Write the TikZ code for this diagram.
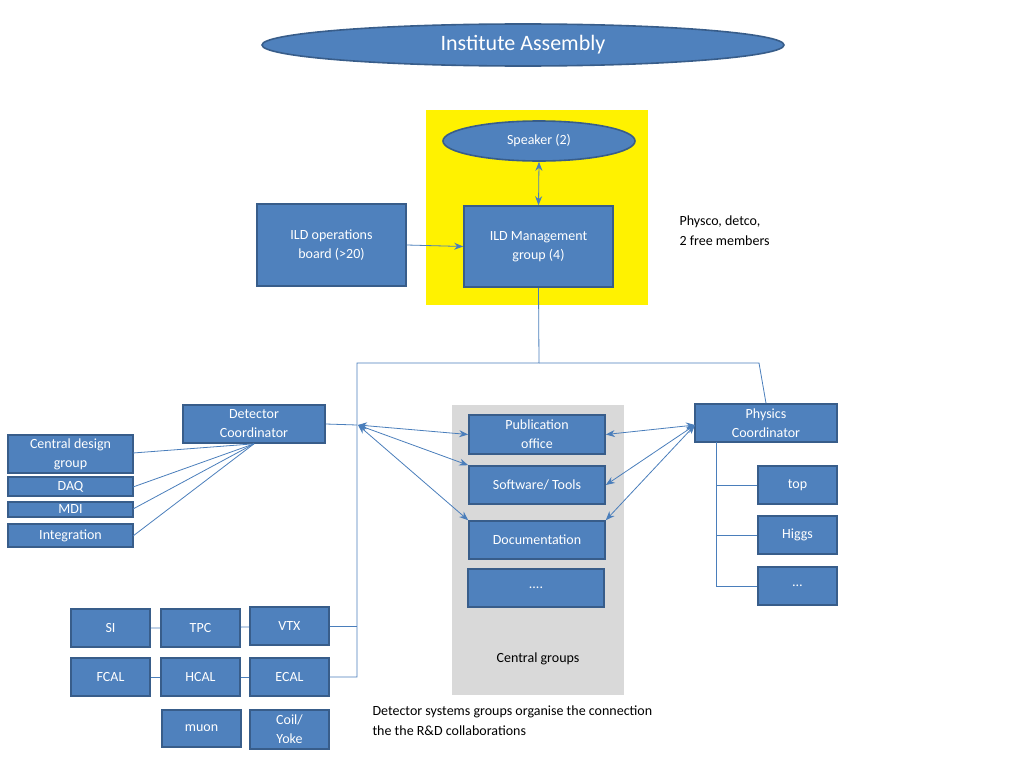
\documentclass[tikz,border=0pt]{standalone}
\usepackage{fontspec}
\setmainfont{Carlito}
\usetikzlibrary{arrows.meta,shapes.geometric}
\definecolor{boxfill}{HTML}{4F81BD}
\definecolor{boxline}{HTML}{385D8A}
\definecolor{linkc}{HTML}{4A7EBB}
\tikzset{
  box/.style={draw=boxline,line width=1.6pt,fill=boxfill,text=white,inner sep=0pt,align=center,font=\fontsize{14}{19}\selectfont},
  oval/.style={box,ellipse},
  link/.style={draw=linkc,line width=0.8pt},
  tip/.style={link,-{Stealth[length=9pt,width=7pt]}},
  both/.style={link,{Stealth[length=9pt,width=7pt]}-{Stealth[length=9pt,width=7pt]}},
}
\newcommand{\boxat}[6]{\node[box,minimum width=#4-#2,minimum height=#5-#3] (#1) at ({(#2+#4)/2},{(#3+#5)/2}) {#6};}
\begin{document}
\begin{tikzpicture}[x=1pt,y=1pt,yscale=-1]
    \useasboundingbox (0,0) rectangle (1024,768);

    % backgrounds
    \fill[yellow] (426,110) rectangle (648,305);
    \fill[black!15] (452,405) rectangle (624,695);

    % top
    \node[oval,minimum width=522,minimum height=42,font=\fontsize{22}{26}\selectfont] (assembly) at (523,45) {Institute Assembly};
    \node[oval,minimum width=192,minimum height=40] (speaker) at (539,141) {Speaker (2)};
    \boxat{mgmt}{464}{206}{613}{287}{ILD Management\\group (4)}
    \boxat{ops}{257}{204}{406}{286}{ILD operations\\board (>20)}
    \node[anchor=north west,align=left,font=\fontsize{14}{20}\selectfont] (note) at (676,212) {Physco, detco,\\2 free members};

    % detector side
    \boxat{detco}{183}{405}{325}{443}{Detector\\Coordinator}
    \boxat{cdg}{8}{435}{133}{473}{Central design\\group}
    \boxat{daq}{8}{477}{133}{496}{DAQ}
    \boxat{mdi}{8}{502}{133}{517}{MDI}
    \boxat{integ}{8}{524}{133}{547}{Integration}

    % central groups
    \boxat{pub}{469}{415}{605}{454}{Publication\\office}
    \boxat{soft}{469}{466}{605}{504}{Software/ Tools}
    \boxat{doc}{469}{521}{605}{559}{Documentation}
    \boxat{more}{468}{569}{604}{607}{....}
    \node[font=\fontsize{14}{17}\selectfont] (central) at (538,659) {Central groups};

    % physics side
    \boxat{phyco}{695}{404}{837}{442}{Physics\\Coordinator}
    \boxat{top}{758}{466}{837}{504}{top}
    \boxat{higgs}{758}{516}{837}{554}{Higgs}
    \boxat{etc}{758}{567}{837}{605}{\dots}

    % detector systems
    \boxat{si}{71}{609}{150}{647}{SI}
    \boxat{tpc}{161}{609}{240}{647}{TPC}
    \boxat{vtx}{250}{607}{329}{645}{VTX}
    \boxat{fcal}{71}{658}{150}{696}{FCAL}
    \boxat{hcal}{161}{658}{240}{696}{HCAL}
    \boxat{ecal}{250}{658}{329}{696}{ECAL}
    \boxat{muon}{162}{710}{241}{747}{muon}
    \boxat{coil}{250}{710}{329}{749}{Coil/\\Yoke}
    \node[anchor=north west,align=left,font=\fontsize{14}{20}\selectfont] (systems) at (369,702) {Detector systems groups organise the connection\\the the R\&D collaborations};

    % connectors
    \coordinate (hub) at (358,425);
    \coordinate (physhub) at (695,425);
    \draw[tip] (ops.east) -- (mgmt.west);
    \draw[both] (speaker.south) -- (mgmt.north);
    \draw[link] (mgmt.south) -- (539,363) -- (357,363) -- (357,677) -- (ecal.east);
    \draw[link] (539,363) -- (759,363) -- (phyco.north);
    \draw[link] (detco.east) -- (357,425);
    \draw[link] (vtx.east) -- (357,626);
    \draw[link] (si) -- (tpc) -- (vtx);
    \draw[link] (fcal) -- (hcal) -- (ecal);
    \foreach \n/\y in {cdg/453,daq/487,mdi/509,integ/536}
        \draw[link] (detco.south) -- (133,\y);
    \draw[both] (hub) -- (pub.west);
    \draw[both] (hub) -- (soft.north west);
    \draw[both] (hub) -- (doc.north west);
    \draw[both] (physhub) -- (pub.east);
    \draw[both] (physhub) -- (soft.east);
    \draw[both] (physhub) -- (doc.north east);
    \draw[link] (716,442) -- (716,586);
    \foreach \n in {top,higgs,etc}
        \draw[link] (716,0 |- \n.west) -- (\n.west);
\end{tikzpicture}
\end{document}
